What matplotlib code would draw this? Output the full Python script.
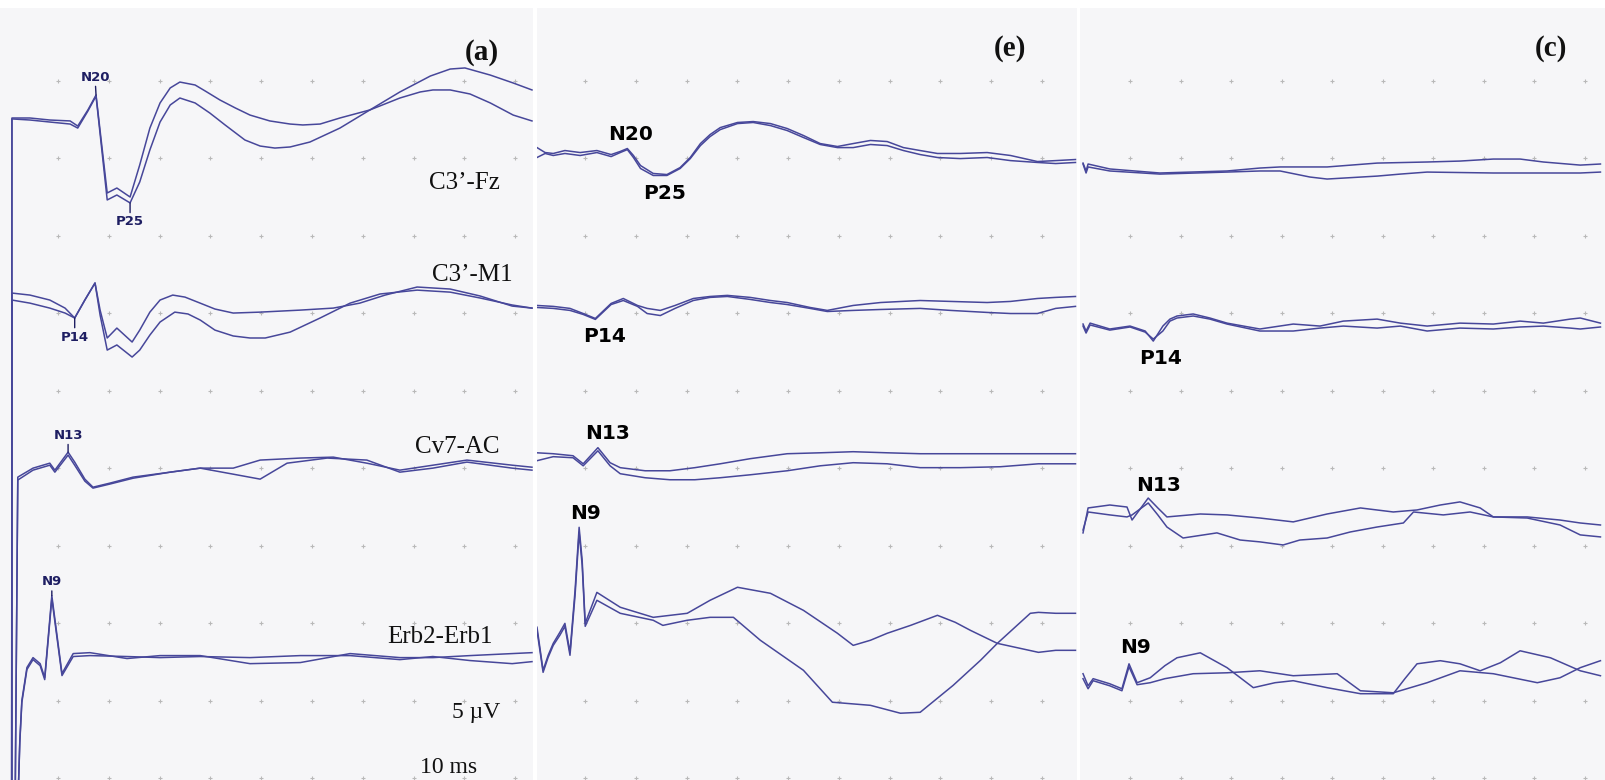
import numpy as np
import matplotlib
matplotlib.use("Agg")
import matplotlib.pyplot as plt
from matplotlib import font_manager

# ---- data: time in ms, amplitude in uV relative to channel baseline ----
CHANNELS = ["C3’-Fz", "C3’-M1", "Cv7-AC", "Erb2-Erb1"]

# channel baselines (uV, from bottom grid row) per panel
A_BASE = [42.6, 31.3, 20.0, 7.9]
E_BASE = [40.5, 30.5, 20.8, 10.5]
C_BASE = [39.5, 29.3, 17.3, 6.6]

# panel (a)
A_FZ_T1 = [0.9, 0.95, 4.5, 8.4, 12.4, 13.9, 15.9, 17.5, 19.7, 21.6, 24.2, 26.1, 28.1, 30.1, 32.1, 34.0,
           37.0, 39.0, 41.9, 44.9, 47.8, 51.7, 55.7, 58.2, 61.6, 65.5, 71.4, 77.3, 81.3, 83.8, 87.2, 91.1,
           95.1, 99.6, 103.3]
A_FZ_V1 = [-45, 0, 0, -0.13, -0.19, -0.52, 0.52, 1.48, -4.84, -4.52, -5.10, -3.03, -0.65, 0.97, 1.94, 2.32,
           2.13, 1.74, 1.16, 0.65, 0.19, -0.19, -0.39, -0.45, -0.39, 0, 0.52, 1.29, 1.68, 1.81, 1.81, 1.55,
           0.97, 0.19, -0.19]
A_FZ_T2 = [0.9, 0.95, 4.5, 8.4, 12.4, 13.9, 15.9, 17.5, 19.7, 21.6, 24.2, 26.1, 28.1, 30.1, 32.1, 34.0,
           37.0, 39.9, 42.9, 46.8, 49.8, 52.7, 55.7, 59.6, 65.5, 71.4, 77.3, 83.3, 87.2, 90.1, 95.1, 99.6,
           103.3]
A_FZ_V2 = [-45, -0.06, -0.13, -0.26, -0.39, -0.65, 0.45, 1.42, -5.29, -4.97, -5.48, -4.13, -2.06, -0.26, 0.84, 1.29,
           0.97, 0.32, -0.45, -1.42, -1.81, -1.94, -1.87, -1.55, -0.65, 0.52, 1.68, 2.71, 3.16, 3.23, 2.77, 2.26,
           1.81]

A_M1_T1 = [0.9, 0.95, 4.5, 8.4, 11.4, 13.3, 15.3, 17.3, 18.3, 19.7, 21.6, 24.6, 26.1, 28.1, 30.1, 32.6,
           35.0, 38.0, 40.9, 44.5, 49.8, 57.7, 64.2, 69.4, 74.4, 80.7, 87.2, 93.1, 99.4, 103.3]
A_M1_V1 = [-35, 0, -0.13, -0.45, -0.97, -1.61, -0.45, 0.65, -1.10, -2.90, -2.26, -3.16, -2.39, -1.23, -0.45, -0.13,
           -0.26, -0.65, -1.03, -1.29, -1.23, -1.10, -0.97, -0.65, -0.13, 0.39, 0.26, -0.19, -0.84, -0.97]
A_M1_T2 = [0.9, 0.95, 4.5, 8.4, 11.4, 13.3, 15.3, 17.3, 18.3, 19.7, 21.6, 24.6, 26.1, 28.1, 30.1, 33.0,
           35.6, 38.0, 40.9, 44.5, 47.8, 50.8, 55.7, 61.6, 67.5, 73.4, 80.7, 87.2, 93.1, 99.4, 103.3]
A_M1_V2 = [-35, -0.45, -0.65, -0.97, -1.29, -1.61, -0.45, 0.65, -1.42, -3.68, -3.35, -4.13, -3.68, -2.71, -1.87, -1.23,
           -1.35, -1.74, -2.39, -2.77, -2.90, -2.90, -2.52, -1.61, -0.65, -0.06, 0.19, 0.06, -0.32, -0.77, -0.97]

A_CV_T1 = [1.5, 2.1, 5.1, 8.4, 9.4, 12.0, 13.3, 15.3, 16.9, 20.2, 24.8, 32.1, 38.0, 44.5, 49.8, 57.7,
           64.2, 70.8, 77.3, 83.8, 90.5, 99.4, 103.3]
A_CV_V1 = [-25, -0.58, 0, 0.32, -0.13, 1.03, 0.39, -0.71, -1.23, -0.97, -0.58, -0.26, 0, 0, 0.52, 0.65,
           0.71, 0.32, -0.13, 0.19, 0.52, 0.19, 0.06]
A_CV_T2 = [1.5, 2.1, 5.1, 8.4, 9.4, 12.0, 13.3, 15.3, 16.9, 20.2, 24.8, 32.1, 38.0, 44.5, 49.8, 55.1,
           63.0, 70.8, 77.3, 83.8, 90.5, 99.4, 103.3]
A_CV_V2 = [-25, -0.77, -0.13, 0.19, -0.26, 0.84, 0.19, -0.84, -1.29, -1.03, -0.65, -0.26, 0, -0.39, -0.71, 0.32,
           0.65, 0.52, -0.26, 0, 0.39, 0, -0.13]

A_ERB_T = [1.9, 2.5, 2.9, 3.9, 5.1, 6.5, 7.4, 8.8, 10.8, 13.0, 16.3, 23.6, 30.1, 38.0, 47.8, 57.7,
           67.5, 77.3, 83.8, 91.1, 99.4, 103.3]
A_ERB_V1 = [-12, -5.48, -2.90, -0.77, -0.13, -0.52, -1.42, 3.87, -1.16, 0.13, 0.19, -0.19, 0, 0, -0.52, -0.45,
            0.13, -0.13, -0.13, 0, 0.13, 0.19]
A_ERB_V2 = [-12, -5.61, -3.03, -0.90, -0.26, -0.65, -1.55, 3.68, -1.29, -0.06, 0, -0.06, -0.13, -0.06, -0.13, 0,
            0, -0.26, -0.06, -0.32, -0.52, -0.39]

# panel (e)
E_FZ_T = [0.5, 2.1, 3.7, 6.0, 9.0, 12.3, 15.1, 16.9, 18.3, 19.5, 20.9, 23.4, 26.1, 28.7, 30.7, 32.7,
          34.6, 36.6, 40.0, 43.1, 46.5, 49.8, 53.0, 56.3, 59.7, 62.8, 66.2, 69.5, 72.7, 76.0, 79.4, 83.9,
          89.2, 93.8, 99.1, 102.7, 106.6]
E_FZ_V1 = [0.19, -0.13, -0.19, 0, -0.13, 0, -0.26, -0.06, 0.13, -0.32, -0.97, -1.48, -1.55, -1.10, -0.45, 0.45,
           1.03, 1.48, 1.81, 1.87, 1.74, 1.42, 0.97, 0.45, 0.26, 0.45, 0.65, 0.58, 0.19, 0, -0.19, -0.19,
           -0.13, -0.32, -0.71, -0.65, -0.58]
E_FZ_V2 = [-0.45, -0.19, -0.32, -0.19, -0.32, -0.13, -0.39, -0.13, 0.06, -0.45, -1.16, -1.61, -1.61, -1.16, -0.52, 0.32,
           0.90, 1.35, 1.74, 1.81, 1.61, 1.29, 0.84, 0.39, 0.19, 0.19, 0.39, 0.32, 0, -0.26, -0.45, -0.52,
           -0.45, -0.65, -0.77, -0.84, -0.77]

E_M1_T = [0.5, 3.7, 7.0, 9.6, 12.0, 15.1, 17.5, 20.3, 22.2, 24.8, 27.7, 31.3, 34.6, 38.0, 42.5, 46.5,
          49.8, 54.3, 57.7, 62.8, 68.2, 76.0, 82.0, 89.2, 93.8, 99.1, 102.7, 106.6]
E_M1_V1 = [0, -0.06, -0.19, -0.52, -0.84, 0.13, 0.45, 0, -0.19, -0.32, 0, 0.45, 0.58, 0.65, 0.52, 0.32,
           0.19, -0.13, -0.32, 0, 0.19, 0.32, 0.26, 0.19, 0.26, 0.45, 0.52, 0.58]
E_M1_V2 = [-0.13, -0.19, -0.32, -0.58, -0.90, 0.06, 0.32, -0.06, -0.52, -0.65, -0.19, 0.32, 0.52, 0.58, 0.39, 0.19,
           0.06, -0.19, -0.39, -0.32, -0.26, -0.19, -0.32, -0.45, -0.52, -0.52, -0.19, -0.06]

E_CV_T = [0.5, 3.7, 7.6, 9.6, 12.5, 14.9, 16.9, 21.8, 26.7, 31.6, 36.6, 42.5, 49.8, 56.3, 62.8, 69.5,
          76.0, 83.9, 91.8, 99.3, 106.6]
E_CV_V1 = [0.19, 0.13, 0, -0.52, 0.52, -0.45, -0.77, -0.97, -0.97, -0.77, -0.52, -0.19, 0.13, 0.19, 0.26, 0.19,
           0.13, 0.13, 0.13, 0.13, 0.13]
E_CV_V2 = [-0.32, -0.06, -0.13, -0.65, 0.32, -0.65, -1.16, -1.42, -1.55, -1.55, -1.42, -1.23, -0.97, -0.65, -0.45, -0.52,
           -0.77, -0.77, -0.71, -0.52, -0.52]

E_ERB_T1 = [0.5, 1.7, 2.7, 3.7, 5.0, 6.0, 7.0, 8.0, 8.8, 9.4, 10.0, 12.3, 16.9, 23.4, 30.1, 34.6,
            40.0, 46.5, 53.0, 59.7, 62.8, 66.2, 69.5, 74.1, 79.4, 82.9, 85.9, 91.2, 99.3, 102.7, 106.6]
E_ERB_V1 = [-0.77, -3.55, -2.58, -1.81, -1.10, -0.52, -2.39, 1.61, 5.68, 3.55, -0.52, 1.48, 0.52, -0.13, 0.13, 0.97,
            1.81, 1.42, 0.32, -1.16, -1.94, -1.61, -1.16, -0.65, 0, -0.45, -0.97, -1.81, -2.39, -2.26, -2.26]
E_ERB_T2 = [0.5, 1.7, 2.7, 3.7, 5.0, 6.0, 7.0, 8.0, 8.8, 9.4, 10.0, 12.3, 16.9, 23.4, 25.3, 30.1,
            34.6, 39.2, 44.5, 53.0, 58.7, 66.2, 72.1, 76.0, 82.5, 87.9, 91.2, 97.7, 99.3, 102.7, 106.6]
E_ERB_V2 = [-0.97, -3.68, -2.71, -1.94, -1.29, -0.71, -2.58, 1.29, 5.35, 3.23, -0.71, 0.97, 0.13, -0.32, -0.65, -0.32,
            -0.13, -0.13, -1.61, -3.55, -5.61, -5.81, -6.32, -6.26, -4.52, -2.90, -1.81, 0.13, 0.19, 0.13, 0.13]

# panel (c)
C_FZ_T1 = [0.7, 1.3, 1.7, 6.0, 15.9, 29.2, 35.7, 39.7, 49.0, 58.9, 68.8, 75.3, 81.9, 87.2, 91.8, 99.1, 103.1]
C_FZ_V1 = [0.19, -0.32, 0.13, -0.19, -0.45, -0.32, -0.13, -0.06, -0.06, 0.19, 0.26, 0.32, 0.45, 0.45, 0.26, 0.06, 0.13]
C_FZ_T2 = [0.7, 1.3, 1.7, 6.0, 15.9, 29.2, 35.7, 39.7, 45.6, 49.0, 58.9, 63.5, 68.8, 81.9, 91.8, 99.1, 103.1]
C_FZ_V2 = [0.13, -0.45, -0.06, -0.32, -0.52, -0.39, -0.32, -0.32, -0.71, -0.84, -0.65, -0.52, -0.39, -0.45, -0.45, -0.45, -0.39]

C_M1_T = [0.7, 1.3, 2.1, 6.0, 10.0, 13.0, 14.6, 16.5, 17.9, 19.3, 22.5, 25.8, 29.2, 35.7, 42.3, 47.6,
          52.2, 58.9, 63.5, 68.8, 75.3, 81.9, 87.2, 91.8, 97.1, 99.1, 103.1]
C_M1_V1 = [0, -0.45, 0.06, -0.32, -0.13, -0.45, -1.10, -0.13, 0.32, 0.52, 0.65, 0.39, 0.06, -0.32, 0, -0.13,
           0.19, 0.32, 0.06, -0.13, 0.06, 0, 0.19, 0.06, 0.32, 0.39, 0.06]
C_M1_V2 = [-0.13, -0.58, -0.06, -0.39, -0.19, -0.52, -0.97, -0.45, 0.19, 0.39, 0.52, 0.32, 0, -0.45, -0.45, -0.26,
           -0.13, -0.26, -0.13, -0.45, -0.26, -0.32, -0.19, -0.13, -0.26, -0.32, -0.19]

C_CV_T1 = [0.7, 1.7, 6.0, 9.4, 10.4, 13.6, 15.5, 17.3, 23.9, 29.2, 35.7, 42.3, 49.0, 55.6, 62.1, 66.8,
           71.4, 75.3, 79.3, 81.9, 88.6, 95.1, 99.1, 103.1]
C_CV_V1 = [-1.48, 0.13, 0.32, 0.19, -0.65, 0.77, 0.13, -0.45, -0.26, -0.32, -0.52, -0.77, -0.26, 0.13, -0.13, 0,
           0.32, 0.52, 0.13, -0.45, -0.45, -0.65, -0.84, -0.97]
C_CV_T2 = [0.7, 1.7, 6.0, 9.4, 10.4, 13.6, 15.5, 17.3, 20.5, 27.2, 31.8, 35.7, 40.3, 43.6, 49.0, 53.6,
           58.9, 64.1, 66.1, 72.0, 77.3, 81.9, 88.6, 95.1, 99.1, 103.1]
C_CV_V2 = [-1.29, -0.13, -0.32, -0.45, -0.32, 0.45, -0.32, -1.10, -1.81, -1.48, -1.94, -2.06, -2.26, -1.94, -1.81, -1.42,
           -1.10, -0.84, -0.13, -0.32, -0.13, -0.45, -0.52, -0.97, -1.61, -1.74]

C_ERB_T1 = [0.7, 1.7, 2.7, 6.0, 8.4, 9.8, 11.4, 14.0, 16.9, 19.3, 23.9, 29.2, 34.4, 38.7, 42.3, 49.0,
            55.6, 62.1, 64.4, 66.8, 71.4, 75.3, 79.3, 83.3, 87.2, 93.2, 99.1, 103.1]
C_ERB_V1 = [0.13, -0.65, -0.19, -0.52, -0.84, 0.77, -0.45, -0.13, 0.65, 1.16, 1.48, 0.52, -0.77, -0.45, -0.32, -0.77,
            -1.16, -1.16, -0.19, 0.77, 0.97, 0.77, 0.32, 0.84, 1.61, 1.16, 0.32, 0]
C_ERB_T2 = [0.7, 1.7, 2.7, 6.0, 8.4, 9.8, 11.4, 14.0, 16.9, 22.5, 29.2, 35.7, 42.3, 51.0, 55.6, 62.1,
            68.8, 75.3, 81.9, 90.6, 95.1, 99.1, 103.1]
C_ERB_V2 = [-0.19, -0.84, -0.32, -0.65, -0.97, 0.58, -0.58, -0.45, -0.19, 0.13, 0.19, 0.32, 0, 0.13, -0.97, -1.10,
            -0.45, 0.32, 0.13, -0.45, -0.13, 0.52, 0.97]

# peak labels: (channel, trace, latency ms, text)
A_PEAKS = [(0, 0, 17.5, "N20"), (0, 1, 24.2, "P25"), (1, 0, 13.3, "P14"), (2, 0, 12.0, "N13"), (3, 0, 8.8, "N9")]
E_PEAKS = [(0, 0, 18.3, "N20"), (0, 1, 23.4, "P25"), (1, 0, 12.0, "P14"), (2, 0, 12.5, "N13"), (3, 0, 8.8, "N9")]
C_PEAKS = [(1, 0, 14.6, "P14"), (2, 0, 13.6, "N13"), (3, 0, 9.8, "N9")]

# ---- style ----
TRACE = "#47479a"
BG = "#f6f6f8"
names = {f.name for f in font_manager.fontManager.ttflist}
if "Liberation Sans Narrow" in names:
    NARROW, NARROW_SIZE = "Liberation Sans Narrow", 13
else:
    NARROW, NARROW_SIZE = "DejaVu Sans", 9.5

fig = plt.figure(figsize=(16.05, 7.8), dpi=100, facecolor="white")
W, H = 1605, 780


def make_axes(x_px, w_px, xlim):
    ax = fig.add_axes([x_px / W, 0, w_px / W, 772 / H])
    ax.set_facecolor(BG)
    ax.set_xlim(*xlim)
    ax.set_ylim(-0.13, 49.7)
    for s in ax.spines.values():
        s.set_visible(False)
    ax.set_xticks([])
    ax.set_yticks([])
    gx, gy = np.meshgrid(np.arange(10, 101, 10), np.arange(0, 46, 5))
    ax.plot(gx.ravel(), gy.ravel(), "+", color="#b9b9b9", ms=3.2, mew=0.8, zorder=1)
    return ax


def draw(ax, base, traces):
    for ch, t, v in traces:
        ax.plot(t, base[ch] + np.array(v), color=TRACE, lw=1.1, zorder=3, solid_joinstyle="round")


def peak_label(ax, base, traces, peaks, offsets, style):
    for (ch, k, lat, txt), (dx, dy) in zip(peaks, offsets):
        t, v = [(tt, vv) for c, tt, vv in traces if c == ch][k]
        y = base[ch] + np.interp(lat, t, v)
        ax.annotate(txt, xy=(lat, y), xytext=(dx * 0.72, dy * 0.72), textcoords="offset points",
                    ha="center", va="center", zorder=4, **style)


# panel (a)
ax_a = make_axes(0, 533, (-1.4, 103.5))
a_traces = [(0, A_FZ_T1, A_FZ_V1), (0, A_FZ_T2, A_FZ_V2), (1, A_M1_T1, A_M1_V1), (1, A_M1_T2, A_M1_V2),
            (2, A_CV_T1, A_CV_V1), (2, A_CV_T2, A_CV_V2), (3, A_ERB_T, A_ERB_V1), (3, A_ERB_T, A_ERB_V2)]
draw(ax_a, A_BASE, a_traces)
peak_label(ax_a, A_BASE, a_traces, A_PEAKS, [(-1, 18), (0, -19), (0, -19), (0, 17), (0, 14)],
           dict(fontsize=NARROW_SIZE, fontweight="bold", family=NARROW, color="#1e1e62",
                arrowprops=dict(arrowstyle="-", color="#1e1e62", lw=1, shrinkA=0, shrinkB=0)))
serif = dict(family="Liberation Serif", color="#111111")
ax_a.text(0.904, 0.942, "(a)", transform=ax_a.transAxes, ha="center", va="center", fontsize=21,
          fontweight="bold", **serif)
label_pos = [(0.938, 0.773), (0.961, 0.654), (0.938, 0.431), (0.925, 0.185)]
for name, (lx, ly) in zip(CHANNELS, label_pos):
    ax_a.text(lx, ly, name, transform=ax_a.transAxes, ha="right", va="center", fontsize=18, **serif)
ax_a.text(0.938, 0.088, "5 µV", transform=ax_a.transAxes, ha="right", va="center", fontsize=17, **serif)
ax_a.text(0.895, 0.016, "10 ms", transform=ax_a.transAxes, ha="right", va="center", fontsize=17, **serif)

bold_sans = dict(fontsize=14.5, fontweight="bold", family="DejaVu Sans", color="black")

# panel (e)
ax_e = make_axes(537, 540, (0.5, 106.9))
e_traces = [(0, E_FZ_T, E_FZ_V1), (0, E_FZ_T, E_FZ_V2), (1, E_M1_T, E_M1_V1), (1, E_M1_T, E_M1_V2),
            (2, E_CV_T, E_CV_V1), (2, E_CV_T, E_CV_V2), (3, E_ERB_T1, E_ERB_V1), (3, E_ERB_T2, E_ERB_V2)]
draw(ax_e, E_BASE, e_traces)
peak_label(ax_e, E_BASE, e_traces, E_PEAKS, [(3, 14), (11, -18), (9, -18), (10, 14), (6, 14)], bold_sans)
ax_e.text(0.876, 0.947, "(e)", transform=ax_e.transAxes, ha="center", va="center", fontsize=21,
          fontweight="bold", **serif)

# panel (c)
ax_c = make_axes(1080, 525, (0.1, 104.0))
c_traces = [(0, C_FZ_T1, C_FZ_V1), (0, C_FZ_T2, C_FZ_V2), (1, C_M1_T, C_M1_V1), (1, C_M1_T, C_M1_V2),
            (2, C_CV_T1, C_CV_V1), (2, C_CV_T2, C_CV_V2), (3, C_ERB_T1, C_ERB_V1), (3, C_ERB_T2, C_ERB_V2)]
draw(ax_c, C_BASE, c_traces)
peak_label(ax_c, C_BASE, c_traces, C_PEAKS, [(7, -17), (10, 13), (6, 16)], bold_sans)
ax_c.text(0.897, 0.947, "(c)", transform=ax_c.transAxes, ha="center", va="center", fontsize=21,
          fontweight="bold", **serif)

fig.savefig("out.png", dpi=100, facecolor="white")
